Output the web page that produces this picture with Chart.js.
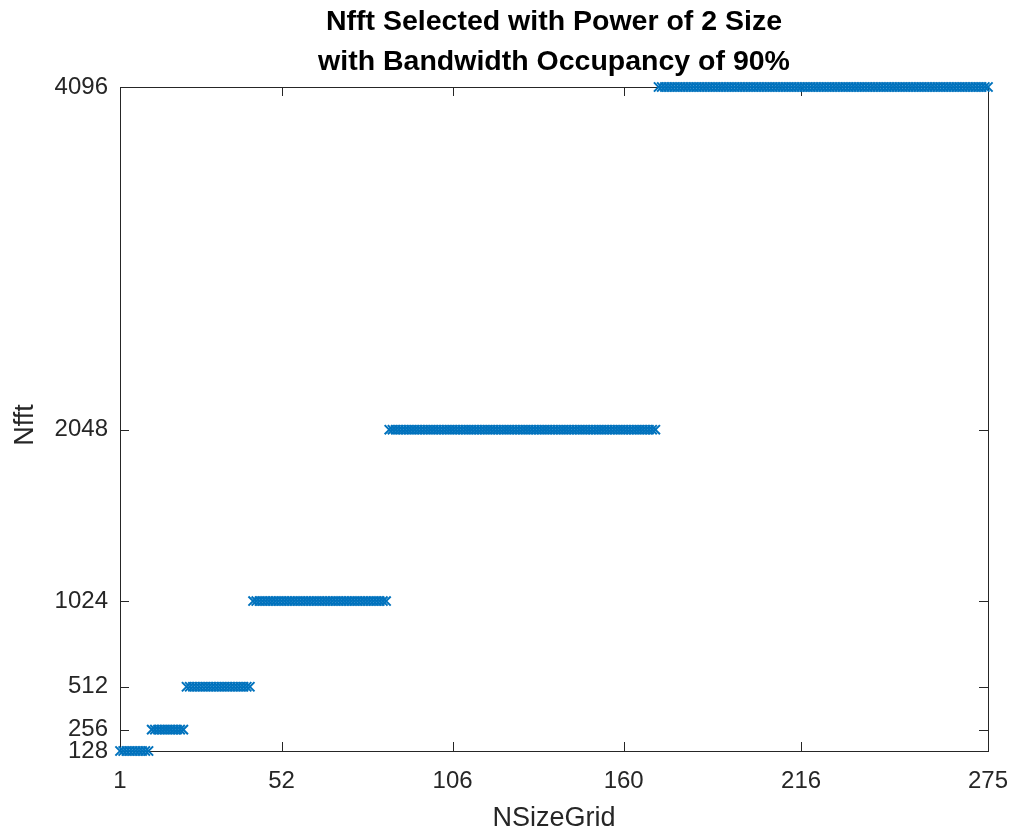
<!DOCTYPE html>
<html lang="en">
<head>
    <meta charset="UTF-8">
    <title>Nfft Selected with Power of 2 Size</title>
    <script src="https://cdn.jsdelivr.net/npm/chart.js"></script>
    <style>
        body {
            margin: 0;
            background-color: #fff;
        }
        #chart {
            display: block;
        }
    </style>
</head>
<body>
    <canvas id="chart" width="1013" height="834"></canvas>

    <script>
        // runs of NSizeGrid values that share the same Nfft
        var nfftLevels = [128, 256, 512, 1024, 2048, 4096];
        var runFirst = [1, 11, 22, 43, 86, 171];
        var runLast = [10, 21, 42, 85, 170, 275];

        var xTickValues = [1, 52, 106, 160, 216, 275];
        var yTickValues = [128, 256, 512, 1024, 2048, 4096];

        var titleLines = ['Nfft Selected with Power of 2 Size', 'with Bandwidth Occupancy of 90%'];
        var xLabel = 'NSizeGrid';
        var yLabel = 'Nfft';

        var points = [];
        for (var r = 0; r < nfftLevels.length; r++) {
            for (var n = runFirst[r]; n <= runLast[r]; n++) {
                points.push({ x: n, y: nfftLevels[r] });
            }
        }

        var axisColor = '#262626';
        var fontFamily = '"Liberation Sans", Arial, Helvetica, sans-serif';

        // box, inward ticks, title and axis labels the way MATLAB draws them
        var matlabAxes = {
            id: 'matlabAxes',
            beforeDatasetsDraw: function (chart) {
                var ctx = chart.ctx;
                var a = chart.chartArea;
                var xs = chart.scales.x, ys = chart.scales.y;
                var len = 9;
                ctx.save();
                ctx.strokeStyle = axisColor;
                ctx.lineWidth = 1;
                ctx.strokeRect(a.left + 0.5, a.top + 0.5, a.right - a.left, a.bottom - a.top);
                ctx.beginPath();
                xTickValues.forEach(function (v) {
                    var px = Math.round(xs.getPixelForValue(v)) + 0.5;
                    ctx.moveTo(px, a.bottom); ctx.lineTo(px, a.bottom - len);
                    ctx.moveTo(px, a.top); ctx.lineTo(px, a.top + len);
                });
                yTickValues.forEach(function (v) {
                    var py = Math.round(ys.getPixelForValue(v)) + 0.5;
                    ctx.moveTo(a.left, py); ctx.lineTo(a.left + len, py);
                    ctx.moveTo(a.right, py); ctx.lineTo(a.right - len, py);
                });
                ctx.stroke();
                ctx.restore();
            },
            afterDraw: function (chart) {
                var ctx = chart.ctx;
                var a = chart.chartArea;
                var cx = (a.left + a.right) / 2;
                ctx.save();
                ctx.fillStyle = '#000';
                ctx.textAlign = 'center';
                ctx.textBaseline = 'middle';
                ctx.font = 'bold 28.5px ' + fontFamily;
                ctx.fillText(titleLines[0], cx, 22);
                ctx.fillText(titleLines[1], cx, 62);

                ctx.fillStyle = axisColor;
                ctx.font = '27px ' + fontFamily;
                ctx.fillText(xLabel, cx, 819);
                ctx.translate(26, (a.top + a.bottom) / 2 + 6);
                ctx.rotate(-Math.PI / 2);
                ctx.fillText(yLabel, 0, 0);
                ctx.restore();
            }
        };

        var ctx = document.getElementById('chart').getContext('2d');
        var nfftChart = new Chart(ctx, {
            type: 'scatter',
            data: {
                datasets: [{
                    label: 'Nfft',
                    data: points,
                    pointStyle: 'crossRot',
                    pointRadius: 6.5,
                    borderColor: '#0072BD',
                    backgroundColor: '#0072BD',
                    borderWidth: 2,
                    clip: false
                }]
            },
            options: {
                responsive: false,
                animation: false,
                layout: {
                    padding: { top: 87, right: 25, left: 0, bottom: 0 }
                },
                plugins: {
                    legend: { display: false },
                    tooltip: { enabled: false }
                },
                scales: {
                    x: {
                        type: 'linear',
                        min: 1,
                        max: 275,
                        border: { display: false },
                        grid: { display: false, drawTicks: false },
                        afterBuildTicks: function (scale) {
                            scale.ticks = xTickValues.map(function (v) { return { value: v }; });
                        },
                        afterFit: function (scale) {
                            scale.height = 83;
                            scale.paddingLeft = 0;
                            scale.paddingRight = 0;
                        },
                        ticks: {
                            color: axisColor,
                            padding: 16,
                            maxRotation: 0,
                            autoSkip: false,
                            callback: function (v) { return String(v); },
                            font: { size: 24, family: fontFamily }
                        }
                    },
                    y: {
                        type: 'linear',
                        min: 128,
                        max: 4096,
                        border: { display: false },
                        grid: { display: false, drawTicks: false },
                        afterBuildTicks: function (scale) {
                            scale.ticks = yTickValues.map(function (v) { return { value: v }; });
                        },
                        afterFit: function (scale) {
                            scale.width = 120;
                            scale.paddingTop = 0;
                            scale.paddingBottom = 0;
                        },
                        ticks: {
                            color: axisColor,
                            padding: 12,
                            autoSkip: false,
                            callback: function (v) { return String(v); },
                            font: { size: 24, family: fontFamily }
                        }
                    }
                }
            },
            plugins: [matlabAxes]
        });
    </script>
</body>
</html>
